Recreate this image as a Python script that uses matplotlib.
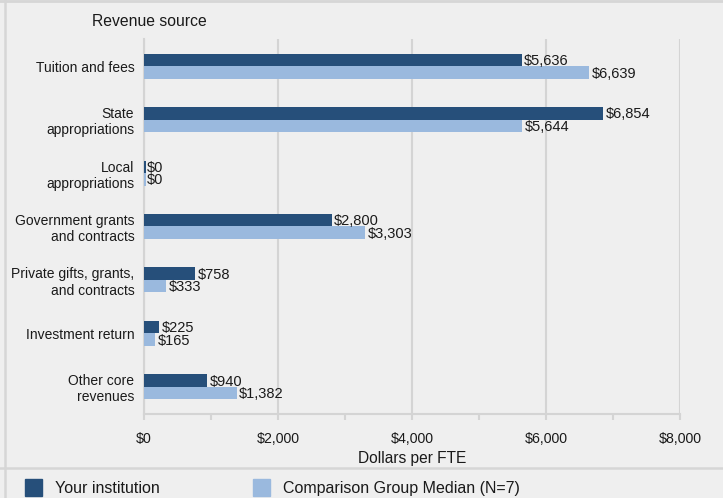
import matplotlib
matplotlib.use("Agg")
import matplotlib.pyplot as plt
from matplotlib.patches import Rectangle
from matplotlib.lines import Line2D
import numpy as np

categories = ["Tuition and fees", "State\nappropriations", "Local\nappropriations",
              "Government grants\nand contracts", "Private gifts, grants,\nand contracts",
              "Investment return", "Other core\nrevenues"]
your_inst = [5636, 6854, 0, 2800, 758, 225, 940]
comparison = [6639, 5644, 0, 3303, 333, 165, 1382]
series_names = ["Your institution", "Comparison Group Median (N=7)"]
xticks = [0, 2000, 4000, 6000, 8000]

plt.rcParams['font.family'] = ['Liberation Sans', 'DejaVu Sans']
BG = "#efefef"
DARK = "#264f7a"
LIGHT = "#9ab9de"
GRID = "#d4d4d4"
TXT = "#1a1a1a"

W, H = 723, 498
fig = plt.figure(figsize=(W/100, H/100), dpi=100, facecolor=BG)
ax = fig.add_axes([144/W, 1-413.5/H, (680-144)/W, (413.5-39.5)/H])
ax.set_facecolor(BG)

n = len(categories)
y = np.arange(n)
bh = 0.233
ax.barh(y - bh/2, your_inst, height=bh, color=DARK, zorder=3)
ax.barh(y + bh/2, comparison, height=bh, color=LIGHT, zorder=3)
for i in range(n):
    v1 = your_inst[i]
    v2 = comparison[i]
    if v1 == 0:
        ax.barh(i - bh/2, 25, height=bh, left=0, color=DARK, zorder=3)
    if v2 == 0:
        ax.barh(i + bh/2, 25, height=bh, left=0, color=LIGHT, zorder=3)
    ax.text(v1 + 40, i - bh/2 + 0.02, f"${v1:,}", va="center", ha="left", fontsize=10.5, color=TXT, zorder=4)
    ax.text(v2 + 40, i + bh/2 + 0.02, f"${v2:,}", va="center", ha="left", fontsize=10.5, color=TXT, zorder=4)

ax.set_ylim(n - 0.5, -0.5)
ax.set_xlim(0, 8000)
ax.set_yticks(y)
ax.set_yticklabels(categories, fontsize=10, color=TXT, ha="right", multialignment="right")
ax.tick_params(axis="y", length=0, pad=7)
ax.set_xticks(xticks)
ax.set_xticklabels([f"${v:,}" for v in xticks], fontsize=10.2, color=TXT)
ax.set_xticks([1000, 3000, 5000, 7000], minor=True)
ax.tick_params(axis="x", which="both", length=4, color=GRID, width=1.5, pad=9)
ax.grid(axis="x", color=GRID, linewidth=1.5, zorder=0)
for s in ["top", "right"]:
    ax.spines[s].set_visible(False)
for s in ["left", "bottom"]:
    ax.spines[s].set_color(GRID)
    ax.spines[s].set_linewidth(1.5)
ax.set_xlabel("Dollars per FTE", fontsize=11.2, color=TXT, labelpad=4)

fig.text(92/W, 1-22/H, "Revenue source", fontsize=11.3, color=TXT, va="center", ha="left")

# frame lines and separator
fig.add_artist(Line2D([0, 1], [1-468/H, 1-468/H], color="#d6d6d6", linewidth=1.8, transform=fig.transFigure))
fig.add_artist(Line2D([0, 1], [1-1.5/H, 1-1.5/H], color="#d6d6d6", linewidth=2, transform=fig.transFigure))
fig.add_artist(Line2D([5/W, 5/W], [0, 1-1.5/H], color="#d6d6d6", linewidth=1.8, transform=fig.transFigure))

# legend
for (x0, color, name, tx) in [(25, DARK, series_names[0], 55), (253, LIGHT, series_names[1], 283)]:
    fig.add_artist(Rectangle((x0/W, 1-496/H), 17/W, 17/H, color=color, transform=fig.transFigure))
    fig.text(tx/W, 1-488/H, name, fontsize=11.5, color=TXT, va="center", ha="left")

fig.savefig("out.png", dpi=100, facecolor=BG)
